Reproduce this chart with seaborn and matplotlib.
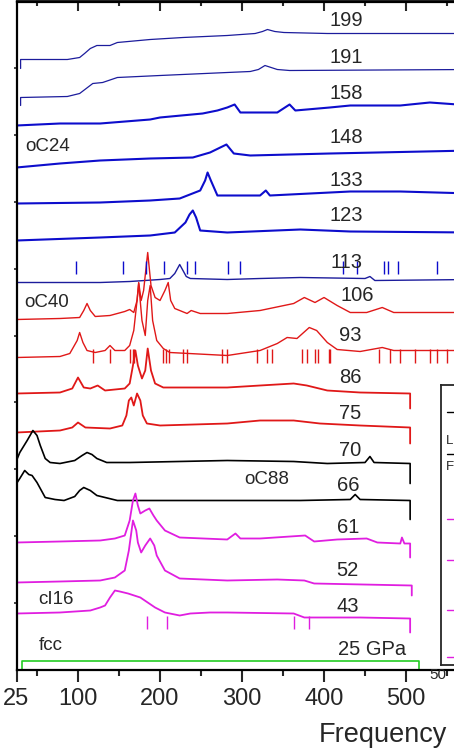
import matplotlib
matplotlib.use('Agg')
import matplotlib.pyplot as plt
import seaborn as sns
from matplotlib.ticker import FixedLocator, NullFormatter

# Espectros Raman empilhados (frequencia em cm-1, intensidade ja deslocada)

# --- dados ---
freq_199 = [30, 30, 87, 102, 108, 115, 123, 139, 148, 188, 228, 282, 316, 325, 331, 340, 351, 404, 580]
int_199 = [601, 610, 610, 612, 616, 621, 624, 624, 627, 630, 632, 634, 636, 638, 640, 638, 637, 636, 636]

freq_191 = [30, 30, 87, 102, 110, 118, 130, 148, 200, 282, 310, 320, 328, 343, 358, 580]
int_191 = [564, 572, 573, 576, 581, 586, 587, 592, 594, 597, 598, 600, 604, 600, 599, 600]

freq_158 = [25, 78, 127, 188, 200, 252, 270, 282, 291, 298, 306, 343, 358, 365, 407, 432, 493, 529, 580]
int_158 = [544, 546, 546, 550, 552, 556, 559, 562, 565, 557, 557, 557, 565, 559, 562, 564, 564, 567, 564]

freq_148 = [25, 78, 127, 188, 240, 261, 271, 281, 290, 310, 407, 580]
int_148 = [502, 506, 509, 511, 512, 517, 521, 525, 516, 514, 516, 519]

freq_133 = [25, 127, 188, 224, 249, 255, 258, 262, 270, 322, 329, 334, 432, 493, 580]
int_133 = [466, 467, 469, 471, 479, 489, 497, 489, 474, 474, 479, 474, 478, 478, 476]

freq_123 = [25, 127, 188, 218, 231, 236, 240, 244, 249, 282, 371, 432, 580]
int_123 = [429, 432, 434, 437, 447, 455, 459, 452, 439, 437, 440, 438, 437]

freq_113 = [25, 127, 163, 200, 212, 218, 224, 232, 237, 282, 322, 371, 450, 456, 462, 580]
int_113 = [387, 387, 388, 390, 391, 396, 405, 393, 391, 390, 391, 392, 391, 393, 389, 390]

freq_106 = [25, 78, 102, 107, 111, 115, 121, 139, 157, 163, 168, 172, 174, 177, 180, 185, 189, 194, 200,
            206, 210, 213, 218, 233, 238, 249, 282, 322, 363, 376, 389, 400, 416, 432, 452, 471, 485, 580]
int_106 = [350, 351, 352, 359, 366, 359, 353, 354, 358, 360, 357, 369, 387, 369, 379, 417, 384, 372, 369,
           379, 387, 369, 361, 356, 359, 356, 356, 359, 366, 372, 367, 372, 364, 357, 357, 362, 357, 357]

freq_93 = [25, 78, 90, 99, 102, 106, 111, 121, 133, 139, 145, 157, 163, 168, 172, 174, 178, 182, 185,
           188, 191, 196, 204, 212, 282, 322, 343, 355, 367, 382, 391, 404, 416, 444, 471, 485, 580]
int_93 = [312, 313, 316, 329, 337, 327, 319, 317, 319, 324, 319, 319, 324, 339, 369, 386, 349, 334, 369,
          384, 349, 329, 321, 317, 314, 319, 326, 332, 331, 342, 339, 327, 320, 318, 322, 319, 319]

freq_86 = [25, 78, 93, 100, 107, 115, 124, 133, 157, 163, 167, 170, 173, 178, 182, 185, 189, 194, 204,
           282, 322, 363, 379, 404, 444, 505, 505]
int_86 = [276, 277, 281, 292, 282, 281, 284, 279, 281, 286, 304, 319, 304, 291, 299, 321, 299, 286, 282,
          282, 284, 286, 284, 279, 277, 276, 261]

freq_75 = [25, 78, 93, 100, 109, 139, 154, 159, 162, 165, 168, 172, 176, 179, 184, 200, 282, 322, 363,
           395, 444, 505, 505]
int_75 = [237, 239, 242, 247, 242, 241, 244, 254, 269, 272, 264, 276, 269, 254, 246, 244, 246, 249, 249,
          246, 244, 242, 226]

freq_70 = [25, 29, 38, 45, 50, 54, 60, 66, 78, 96, 105, 111, 117, 123, 135, 163, 282, 363, 404, 450, 456,
           461, 505, 505]
int_70 = [209, 217, 229, 239, 234, 224, 211, 207, 206, 209, 214, 217, 215, 211, 207, 207, 209, 208, 206,
          207, 213, 207, 206, 186]

freq_66 = [25, 29, 35, 40, 44, 50, 60, 72, 83, 96, 102, 107, 115, 123, 148, 209, 282, 371, 432, 438, 444,
           505, 505]
int_66 = [186, 191, 199, 195, 194, 187, 172, 170, 169, 173, 179, 182, 179, 174, 169, 169, 169, 169, 170,
          175, 170, 169, 150]

freq_61 = [25, 78, 127, 145, 157, 163, 167, 170, 173, 176, 182, 187, 192, 196, 206, 224, 282, 292, 298,
           322, 377, 388, 416, 452, 465, 493, 495, 498, 505, 505]
int_61 = [127, 128, 129, 131, 134, 149, 169, 176, 164, 156, 159, 161, 154, 149, 139, 132, 130, 136, 131,
          131, 134, 128, 130, 131, 127, 126, 132, 126, 126, 112]

freq_52 = [25, 78, 127, 145, 157, 162, 167, 171, 173, 177, 182, 188, 193, 196, 206, 224, 282, 343, 376,
           388, 507, 507]
int_52 = [87, 88, 89, 92, 99, 119, 149, 139, 127, 117, 124, 131, 124, 114, 99, 91, 89, 90, 89, 86, 84, 74]

freq_43 = [25, 25.5, 78, 115, 127, 133, 139, 145, 151, 161, 176, 194, 206, 224, 237, 261, 282, 363, 376,
           444, 505, 505]
int_43 = [47, 56, 57, 59, 62, 64, 72, 79, 78, 76, 72, 62, 57, 54, 56, 57, 57, 56, 52, 52, 51, 37]

freq_25 = [32, 32, 516, 516]
int_25 = [1, 9, 9, 1]

# posicoes das reflexoes calculadas (tracinhos verticais)
refl_oC24 = [98, 155, 183, 205, 233, 243, 283, 298, 423, 440, 473, 478, 490, 538]
refl_oC40 = [118, 139, 163, 167, 168, 204, 207, 211, 228, 233, 276, 282, 318, 330, 337, 373, 379, 389,
             393, 406, 407, 467, 480, 493, 511, 529, 538, 550]
refl_cI16 = [184, 208, 363, 382]

pressoes = ['199', '191', '158', '148', '133', '123', '113', '106', '93', '86', '75', '70', '66', '61',
            '52', '43', '25 GPa']
fases = ['oC24', 'oC40', 'oC88', 'cI16', 'fcc']

azul_escuro = '#1c1c9c'
azul = '#0d0dcc'
vermelho = '#e01818'
magenta = '#e01ee0'
verde = '#22cc22'


def desenha_espectro(ax, freq, intens, cor, lw):
    """Desenha um espectro com o seaborn, mantendo a ordem dos pontos."""
    sns.lineplot(x=freq, y=intens, ax=ax, color=cor, linewidth=lw, sort=False, estimator=None)


sns.set_style('white')
plt.rcParams['font.family'] = ['Liberation Sans', 'DejaVu Sans']

fig = plt.figure(figsize=(4.54, 7.52), dpi=100)
ax = fig.add_axes([16.5 / 454, 82.5 / 752, 453.5 / 454, 668 / 752])

espectros = [
    (freq_199, int_199, azul_escuro, 0.9), (freq_191, int_191, azul_escuro, 0.9),
    (freq_158, int_158, azul, 1.5), (freq_148, int_148, azul, 1.5),
    (freq_133, int_133, azul, 1.5), (freq_123, int_123, azul, 1.5),
    (freq_113, int_113, azul_escuro, 1.0), (freq_106, int_106, vermelho, 1.0),
    (freq_93, int_93, vermelho, 1.0), (freq_86, int_86, vermelho, 1.3),
    (freq_75, int_75, vermelho, 1.3), (freq_70, int_70, 'black', 1.2),
    (freq_66, int_66, 'black', 1.2), (freq_61, int_61, magenta, 1.3),
    (freq_52, int_52, magenta, 1.3), (freq_43, int_43, magenta, 1.3),
    (freq_25, int_25, verde, 1.2),
]
for freq, intens, cor, lw in espectros:
    desenha_espectro(ax, freq, intens, cor, lw)

# tracinhos das reflexoes
ax.vlines(refl_oC24, 396, 409, color=azul, lw=1.0)
ax.vlines(refl_oC40, 307, 321, color=vermelho, lw=1.0)
ax.vlines(refl_cI16, 41, 54, color=magenta, lw=1.0)

# rotulos de pressao e de fase
pos_pressao = [(427, 649), (427, 612), (427, 576), (427, 532), (427, 489), (427, 454), (427, 407),
               (441, 374), (432, 334), (432, 292), (432, 256), (432, 219), (429, 184), (429, 142),
               (429, 99), (429, 63), (458, 20)]
for texto, (px, py) in zip(pressoes, pos_pressao):
    ax.text(px, py, texto, fontsize=14.5, ha='center', va='center')

pos_fase = [(63, 523), (62, 367), (330, 190), (73, 70), (67, 24)]
for texto, (px, py) in zip(fases, pos_fase):
    ax.text(px, py, texto, fontsize=13.5, ha='center', va='center')

# eixos
ax.set_xlim(25, 578)
ax.set_ylim(0, 668)
ax.set_xlabel('')
ax.set_ylabel('')
for lado in ['left', 'bottom', 'top']:
    ax.spines[lado].set_linewidth(1.6)
    ax.spines[lado].set_color('black')
ax.spines['right'].set_visible(False)

ax.xaxis.set_major_locator(FixedLocator([25, 100, 200, 300, 400, 500]))
ax.xaxis.set_minor_locator(FixedLocator([50, 150, 250, 350, 450, 550]))
ax.set_xticklabels(['25', '100', '200', '300', '400', '500'])
ax.tick_params(axis='x', which='major', direction='out', length=8.5, width=1.5, labelsize=17, pad=5,
               top=False, bottom=True)
ax.tick_params(axis='x', which='minor', direction='out', length=4.5, width=1.5, top=False, bottom=True)

ax.yaxis.set_major_locator(FixedLocator([66.8 * k for k in range(1, 10)]))
ax.yaxis.set_major_formatter(NullFormatter())
ax.tick_params(axis='y', which='major', direction='out', length=2.5, width=1.2, left=True)

# marcas do eixo de cima, para dentro
topo = ax.secondary_xaxis('top')
topo.xaxis.set_major_locator(FixedLocator([100, 200, 300, 400, 500]))
topo.xaxis.set_minor_locator(FixedLocator([50, 150, 250, 350, 450, 550]))
topo.xaxis.set_major_formatter(NullFormatter())
topo.tick_params(axis='x', which='major', direction='in', length=7.5, width=1.5)
topo.tick_params(axis='x', which='minor', direction='in', length=3.5, width=1.5)
topo.spines['top'].set_linewidth(1.6)

fig.text(319 / 454, 1 - 735 / 752, 'Frequency', fontsize=19.5, ha='left', va='center')

# painel vizinho (cortado) no canto direito
inset = fig.add_axes([440.5 / 454, (752 - 665) / 752, 80 / 454, 280 / 752])
inset.set_facecolor('white')
inset.set_xlim(0, 1)
inset.set_ylim(0, 1)
inset.set_xticks([])
inset.set_yticks([])
for lado in inset.spines.values():
    lado.set_linewidth(1.3)
for yy, cor in [(0.905, 'black'), (0.752, 'black'), (0.52, magenta), (0.375, magenta),
                (0.195, magenta), (0.03, magenta)]:
    inset.plot([0.08, 0.2], [yy, yy], color=cor, lw=1.0)
fig.text(446 / 454, 1 - 441 / 752, 'L', fontsize=9.5, ha='left', va='center')
fig.text(446 / 454, 1 - 467 / 752, 'F', fontsize=9.5, ha='left', va='center')
fig.text(438 / 454, 1 - 675 / 752, '50', fontsize=11, ha='center', va='center')

plt.savefig('out.png', dpi=100)
plt.close()
